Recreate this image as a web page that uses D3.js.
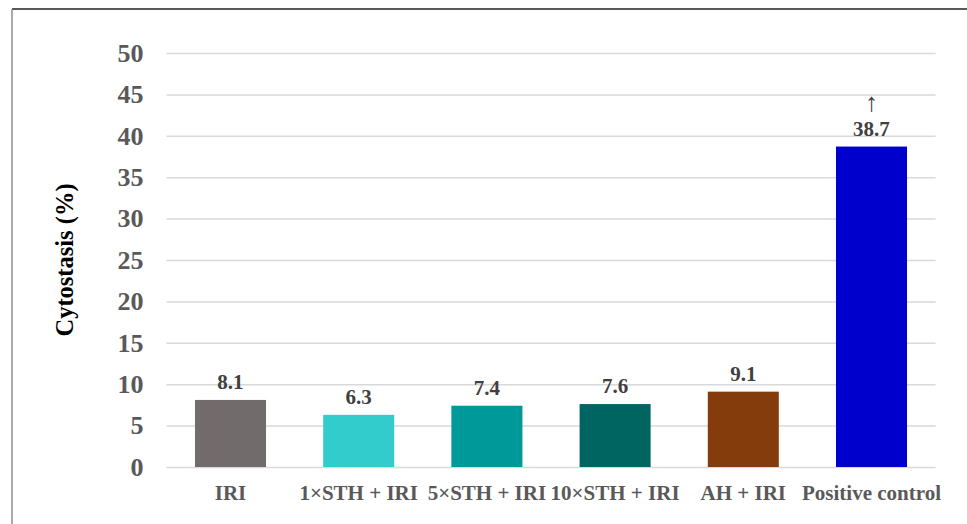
<!DOCTYPE html>
<html>
<head>
<meta charset="utf-8">
<script src="https://cdn.jsdelivr.net/npm/d3@7"></script>
<style>
  html, body { margin: 0; padding: 0; background: #fff; }
  svg { display: block; font-family: "Liberation Serif", "Times New Roman", serif; }
</style>
</head>
<body>
<div id="chart"></div>
<script>
const categories = ["IRI", "1×STH + IRI", "5×STH + IRI", "10×STH + IRI", "AH + IRI", "Positive control"];
const values = [8.1, 6.3, 7.4, 7.6, 9.1, 38.7];
const barColors = ["#716c6b", "#33cccc", "#009999", "#006461", "#843c0c", "#0000cc"];
const yTicks = [0, 5, 10, 15, 20, 25, 30, 35, 40, 45, 50];

const WIDTH = 967, HEIGHT = 524;
const MARGIN = { left: 166.4, right: 31.4, top: 53, bottom: 57 };
const INNER_WIDTH = WIDTH - MARGIN.left - MARGIN.right;
const INNER_HEIGHT = HEIGHT - MARGIN.top - MARGIN.bottom;

const svg = d3.select("#chart")
    .append("svg")
    .attr("width", WIDTH)
    .attr("height", HEIGHT);

// outer frame: only top and left edges show in the picture
svg.append("line")
    .attr("x1", 12).attr("x2", WIDTH)
    .attr("y1", 9).attr("y2", 9)
    .attr("stroke", "#5a5a5a").attr("stroke-width", 2);
svg.append("line")
    .attr("x1", 12).attr("x2", 12)
    .attr("y1", 9).attr("y2", HEIGHT)
    .attr("stroke", "#8c8c8c").attr("stroke-width", 1.5);

const inner = svg.append("g")
    .attr("transform", `translate(${MARGIN.left},${MARGIN.top})`);

const xScale = d3.scaleBand()
    .domain(categories)
    .range([0, INNER_WIDTH])
    .paddingInner(0.446)
    .paddingOuter(0.223);

const yScale = d3.scaleLinear()
    .domain([0, 50])
    .range([INNER_HEIGHT, 0]);

// gridlines + tick labels
const yAxis = inner.append("g")
    .call(d3.axisLeft(yScale)
        .tickValues(yTicks)
        .tickSize(-INNER_WIDTH)
        .tickPadding(23));
yAxis.select(".domain").remove();
yAxis.selectAll(".tick line")
    .attr("stroke", "#d9d9d9")
    .attr("stroke-width", 1.5);
yAxis.selectAll(".tick text")
    .attr("fill", "#595959")
    .style("font-family", "'Liberation Serif', serif")
    .style("font-size", "26px")
    .style("font-weight", "bold");

// bars
inner.selectAll("rect.bar")
    .data(categories)
    .join("rect")
    .attr("class", "bar")
    .attr("x", d => xScale(d))
    .attr("y", (d, i) => yScale(values[i]))
    .attr("width", xScale.bandwidth())
    .attr("height", (d, i) => yScale(0) - yScale(values[i]))
    .attr("fill", (d, i) => barColors[i]);

// value labels
inner.selectAll("text.value")
    .data(categories)
    .join("text")
    .attr("class", "value")
    .attr("x", d => xScale(d) + xScale.bandwidth() / 2)
    .attr("y", (d, i) => yScale(values[i]) - 11)
    .attr("text-anchor", "middle")
    .attr("fill", "#404040")
    .style("font-size", "21px")
    .style("font-weight", "bold")
    .text((d, i) => values[i].toFixed(1));

// arrow above the positive control value
const last = categories[categories.length - 1];
inner.append("text")
    .attr("x", xScale(last) + xScale.bandwidth() / 2)
    .attr("y", yScale(values[values.length - 1]) - 36)
    .attr("text-anchor", "middle")
    .attr("fill", "#404040")
    .style("font-size", "26px")
    .text("↑");

// category labels
const xAxis = inner.append("g")
    .attr("transform", `translate(0,${INNER_HEIGHT})`)
    .call(d3.axisBottom(xScale).tickSize(0).tickPadding(18));
xAxis.select(".domain").remove();
xAxis.selectAll(".tick text")
    .attr("fill", "#595959")
    .style("font-family", "'Liberation Serif', serif")
    .style("font-size", "21px")
    .style("font-weight", "bold");

// y axis title
svg.append("text")
    .attr("transform", `translate(73,${MARGIN.top + INNER_HEIGHT / 2}) rotate(-90)`)
    .attr("text-anchor", "middle")
    .attr("fill", "#000")
    .style("font-size", "24.5px")
    .style("font-weight", "bold")
    .text("Cytostasis (%)");
</script>
</body>
</html>
